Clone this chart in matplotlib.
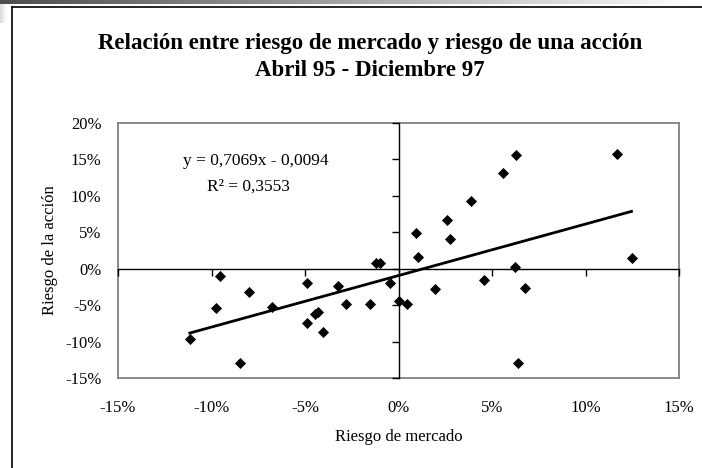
import numpy as np
import matplotlib
matplotlib.use('Agg')
import matplotlib.pyplot as plt
from matplotlib.ticker import FuncFormatter
from matplotlib.lines import Line2D

# rendimientos mensuales (abril 95 - diciembre 97)
mercado = [-11.16, -9.77, -9.54, -8.50, -8.02, -6.79, -4.87, -4.87, -4.44, -4.30,
           -4.03, -3.21, -2.80, -1.53, -1.18, -1.00, -0.47, 0.03, 0.48, 0.94,
           1.02, 1.96, 2.58, 2.76, 3.87, 4.58, 5.59, 6.31, 6.22, 6.79,
           6.40, 11.66, 12.46]
accion = [-9.67, -5.42, -1.00, -12.88, -3.24, -5.20, -2.00, -7.48, -6.25, -5.97,
          -8.63, -2.37, -4.79, -4.79, 0.82, 0.82, -2.00, -4.38, -4.79, 4.89,
          1.64, -2.78, 6.71, 4.07, 9.32, -1.59, 13.15, 15.58, 0.23, -2.60,
          -12.88, 15.75, 1.42]
pendiente = 0.7069
ordenada = -0.0094
r2 = 0.3553
ticks = [-0.15, -0.10, -0.05, 0.0, 0.05, 0.10, 0.15]
yticks = [-0.15, -0.10, -0.05, 0.0, 0.05, 0.10, 0.15, 0.20]

x = np.array(mercado) / 100
y = np.array(accion) / 100

plt.rcParams['font.family'] = ['Liberation Serif', 'DejaVu Serif']

fig = plt.figure(figsize=(7.02, 4.68), dpi=100)
W, H = 702, 468

# barra degradada de arriba (documento)
grad = fig.add_axes([0, 1 - 4 / H, 1, 4 / H])
grad.imshow(np.linspace(0.3, 1.0, 256).reshape(1, -1), cmap='gray', aspect='auto',
            vmin=0, vmax=1)
grad.axis('off')
side = fig.add_axes([0, 1 - 23 / H, 7 / W, 19 / H])
side.imshow(np.linspace(0.85, 1.0, 16).reshape(1, -1), cmap='gray', aspect='auto',
            vmin=0, vmax=1)
side.axis('off')

# marco del grafico
fig.add_artist(Line2D([12 / W, 12 / W], [0, 1 - 7 / H], color='black', lw=1.2))
fig.add_artist(Line2D([12 / W, 1], [1 - 7 / H, 1 - 7 / H], color='black', lw=1.2))

pos = [118 / W, 1 - 378 / H, 561 / W, 255 / H]
ax = fig.add_axes(pos)
ax.scatter(x, y, marker='D', s=32, color='black', zorder=3, linewidths=0)
xs = np.array([x.min(), x.max()])
ax.plot(xs, pendiente * xs + ordenada, color='black', lw=2.0, zorder=2)

ax.set_xlim(-0.15, 0.15)
ax.set_ylim(-0.15, 0.20)
ax.set_xticks(ticks)
ax.set_yticks(yticks)
fmt = FuncFormatter(lambda v, p: '%d%%' % round(v * 100))
ax.xaxis.set_major_formatter(fmt)
ax.yaxis.set_major_formatter(fmt)
ax.tick_params(length=0, labelsize=12)
ax.tick_params(axis='x', pad=16)
ax.tick_params(axis='y', pad=12)
for s in ax.spines.values():
    s.set_color('#808080')
    s.set_linewidth(1.3)
ax.set_xlabel('Riesgo de mercado', fontsize=12, labelpad=9)
ax.set_ylabel('Riesgo de la acción', fontsize=12, labelpad=5)

# ejes que se cruzan en cero
ax2 = fig.add_axes(pos, sharex=ax, sharey=ax)
ax2.patch.set_visible(False)
ax2.spines['top'].set_visible(False)
ax2.spines['right'].set_visible(False)
ax2.spines['left'].set_position(('data', 0))
ax2.spines['bottom'].set_position(('data', 0))
for s in ['left', 'bottom']:
    ax2.spines[s].set_color('black')
    ax2.spines[s].set_linewidth(1.0)
ax2.tick_params(direction='out', length=5, width=1, color='black',
                labelleft=False, labelbottom=False)

ax.text(-0.0763, 0.1475, 'y = 0,7069x - 0,0094', fontsize=12.5, ha='center', va='center')
ax.text(-0.0805, 0.113, 'R² = 0,3553', fontsize=12.5, ha='center', va='center')

fig.text(370 / W, 1 - 43 / H, 'Relación entre riesgo de mercado y riesgo de una acción',
         ha='center', va='center', fontsize=16.5, fontweight='bold')
fig.text(370 / W, 1 - 71 / H, 'Abril 95 - Diciembre 97',
         ha='center', va='center', fontsize=16.5, fontweight='bold')

fig.savefig('out.png', dpi=100)
